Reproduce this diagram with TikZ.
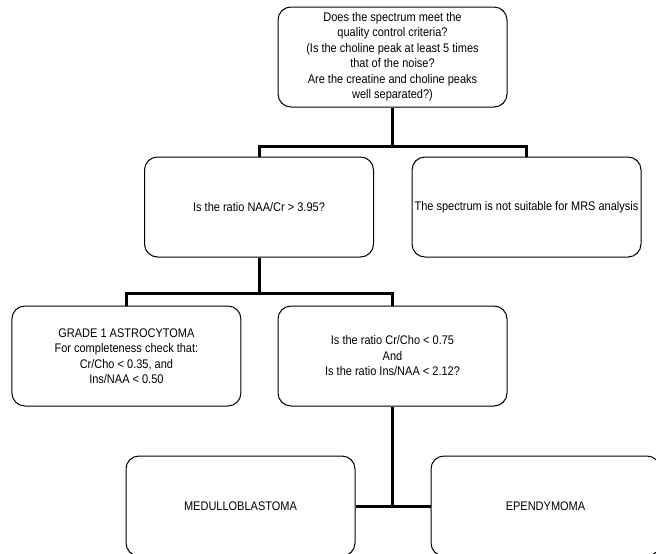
\documentclass[tikz,border=0pt]{standalone}
\usepackage{fontspec}
\setmainfont{Liberation Sans}[FakeStretch=0.88]
\begin{document}
\begin{tikzpicture}[x=1pt,y=-1pt,
  box/.style={draw=black, line width=1pt, rounded corners=13pt,
    minimum width=229pt, minimum height=100pt, inner sep=1pt,
    align=center, font=\fontsize{12.5}{15.5}\selectfont},
  conn/.style={draw=black, line width=3pt}]
\useasboundingbox (0,0) rectangle (656,554);
\clip (0,0) rectangle (656,554);
\node[box] (q1) at (392.5,57) {Does the spectrum meet the\\quality control criteria?\\(Is the choline peak at least 5 times\\that of the noise?\\Are the creatine and choline peaks\\well separated?)};
\node[box] (q2) at (259,207) {Is the ratio NAA/Cr > 3.95?};
\node[box] (ns) at (526.5,207) {The spectrum is not suitable for MRS analysis};
\node[box] (g1) at (126.4,356) {GRADE 1 ASTROCYTOMA\\For completeness check that:\\Cr/Cho < 0.35, and\\Ins/NAA < 0.50};
\node[box] (q3) at (392.5,356) {Is the ratio Cr/Cho < 0.75\\And\\Is the ratio Ins/NAA < 2.12?};
\node[box] (med) at (240.5,506) {MEDULLOBLASTOMA};
\node[box] (epe) at (545.5,506) {EPENDYMOMA};
\coordinate (j1) at (392.5,146);
\coordinate (j2) at (259,293);
\coordinate (j3) at (392.5,506);
\draw[conn] (q1.south) -- (j1);
\draw[conn] (q2.north) |- (j1) -| (ns.north);
\draw[conn] (q2.south) -- (j2);
\draw[conn] (g1.north) |- (j2) -| (q3.north);
\draw[conn] (q3.south) -- (j3);
\draw[conn] (med.east) -- (epe.west);
\end{tikzpicture}
\end{document}
